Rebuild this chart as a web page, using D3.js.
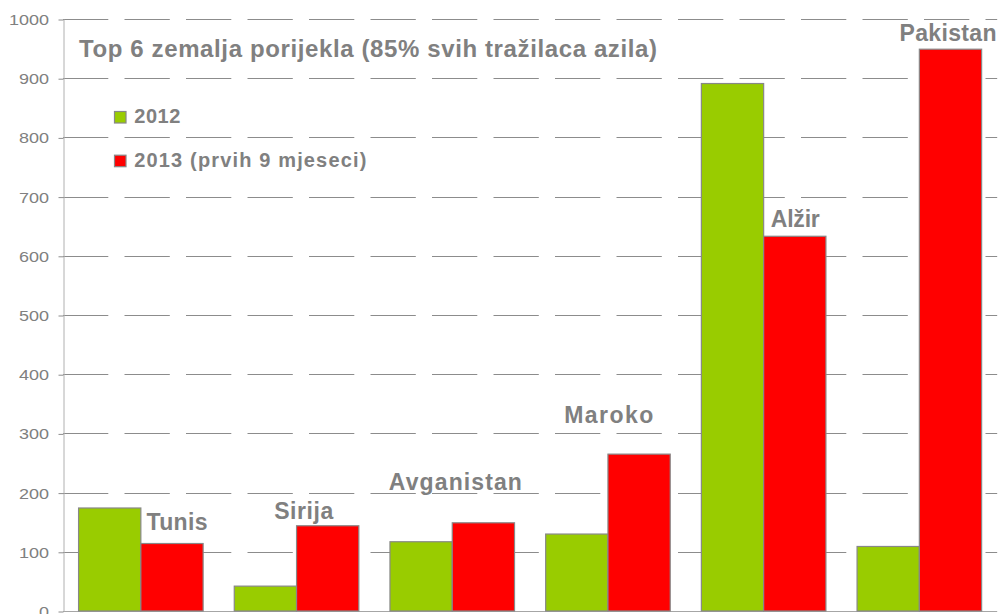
<!DOCTYPE html>
<html>
<head>
<meta charset="utf-8">
<script src="https://cdn.jsdelivr.net/npm/d3@7"></script>
<style>
  html, body { margin: 0; padding: 0; background: #ffffff; }
  svg { display: block; font-family: "Liberation Sans", Arial, sans-serif; }
</style>
</head>
<body>
<svg id="chart" width="998" height="614"></svg>
<script>
// ---- data ----
const categories = ["Tunis", "Sirija", "Avganistan", "Maroko", "Alžir", "Pakistan"];
const series = ["2012", "2013 (prvih 9 mjeseci)"];
const values2012 = [174, 42, 117, 130, 891, 109];
const values2013 = [114, 144, 149, 265, 633, 949];
const yTicks = [0, 100, 200, 300, 400, 500, 600, 700, 800, 900, 1000];
const titleText = "Top 6 zemalja porijekla (85% svih tražilaca azila)";

// ---- layout (not data) ----
const colors = ["#99CC00", "#FF0000"];
const textGray = "#808080";
// category label placement: fraction across band, value-level for baseline, text length
const labelLayout = [
  {f: 0.732, v: 137, w: 61},
  {f: 0.546, v: 156, w: 59},
  {f: 0.520, v: 204, w: 133},
  {f: 0.505, v: 317, w: 89},
  {f: 0.703, v: 649, w: 49},
  {f: 0.684, v: 962, w: 97}
];

const svg = d3.select("#chart");
const mLeft = 63, mRight = 997.2, mTop = 19, mBottom = 611;

const y = d3.scaleLinear().domain([0, 1000]).range([mBottom, mTop]);
const x = d3.scaleBand().domain(categories).range([mLeft, mRight]).padding(0);
const xs = d3.scaleBand().domain(series).range([0, x.bandwidth()]).paddingInner(0).paddingOuter(0.25);

// gridlines
const grid = svg.append("g");
grid.selectAll("line").data(yTicks).join("line")
  .attr("x1", mLeft).attr("x2", mRight)
  .attr("y1", d => Math.round(y(d)) + 0.5).attr("y2", d => Math.round(y(d)) + 0.5)
  .attr("stroke", d => d === 0 ? "#a6a6a6" : "#8c8c8c")
  .attr("stroke-width", 1)
  .attr("stroke-dasharray", d => d === 0 ? null : "45.3,16.2");

// y axis
const yAxis = svg.append("g")
  .attr("transform", `translate(${mLeft + 0.5},0)`)
  .call(d3.axisLeft(y).tickValues(yTicks).tickSize(5).tickSizeOuter(0).tickFormat(d3.format("d")));
yAxis.select(".domain").attr("stroke", "#b0b0b0");
yAxis.selectAll(".tick line").attr("stroke", "#8c8c8c")
  .attr("transform", "translate(0,0.5)");
yAxis.selectAll(".tick text")
  .attr("fill", textGray)
  .attr("font-size", 15)
  .attr("font-family", "'Liberation Sans', Arial, sans-serif")
  .attr("x", -14.5 / 1.2)
  .attr("dy", "0.36em")
  .attr("transform", "scale(1.2,1)");

// bars
const groups = svg.append("g").selectAll("g").data(categories).join("g")
  .attr("transform", d => `translate(${x(d)},0)`);
groups.selectAll("rect")
  .data((c, i) => [
    {s: series[0], v: values2012[i], k: 0},
    {s: series[1], v: values2013[i], k: 1}
  ])
  .join("rect")
  .attr("x", d => xs(d.s))
  .attr("width", xs.bandwidth())
  .attr("y", d => y(d.v))
  .attr("height", d => y(0) - y(d.v))
  .attr("fill", d => colors[d.k])
  .attr("stroke", "#888888")
  .attr("stroke-width", 1.2);

// category labels
svg.append("g").selectAll("text").data(categories).join("text")
  .attr("x", (d, i) => x(d) + labelLayout[i].f * x.bandwidth())
  .attr("y", (d, i) => y(labelLayout[i].v))
  .attr("text-anchor", "middle")
  .attr("font-weight", "bold")
  .attr("font-size", 23)
  .attr("fill", textGray)
  .attr("textLength", (d, i) => labelLayout[i].w)
  .attr("lengthAdjust", "spacing")
  .text(d => d);

// title
svg.append("text")
  .attr("x", 79).attr("y", 57)
  .attr("font-weight", "bold")
  .attr("font-size", 24)
  .attr("fill", textGray)
  .attr("textLength", 578)
  .attr("lengthAdjust", "spacing")
  .text(titleText);

// legend
const legendLayout = [{y: 123, w: 46}, {y: 166.7, w: 232}];
const legend = svg.append("g").selectAll("g").data(series).join("g");
legend.append("rect")
  .attr("x", 114.5)
  .attr("y", (d, i) => legendLayout[i].y - 11.5)
  .attr("width", 11.5).attr("height", 11.5)
  .attr("fill", (d, i) => colors[i])
  .attr("stroke", "#888888").attr("stroke-width", 1.2);
legend.append("text")
  .attr("x", 134.3)
  .attr("y", (d, i) => legendLayout[i].y)
  .attr("font-weight", "bold")
  .attr("font-size", 20)
  .attr("fill", textGray)
  .attr("textLength", (d, i) => legendLayout[i].w)
  .attr("lengthAdjust", "spacing")
  .text(d => d);
</script>
</body>
</html>
